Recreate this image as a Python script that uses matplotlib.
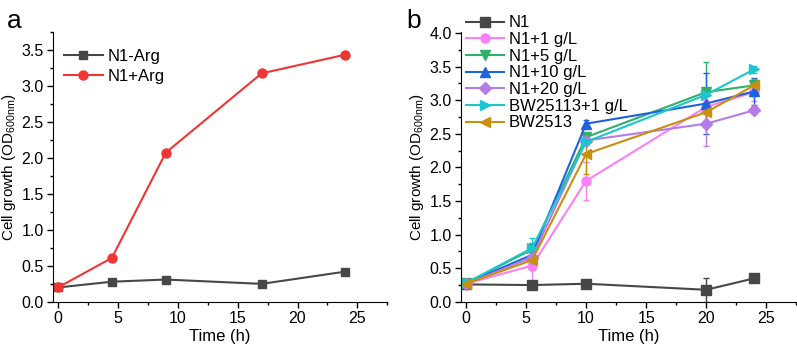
import matplotlib.pyplot as plt
from matplotlib.ticker import MultipleLocator, AutoMinorLocator

plt.rcParams['font.family'] = ['Liberation Sans', 'DejaVu Sans']
plt.rcParams['font.size'] = 11

# Panel a data
time_a = [0, 4.5, 9, 17, 24]
n1_minus_arg = [0.20, 0.28, 0.31, 0.25, 0.42]
n1_plus_arg = [0.20, 0.61, 2.07, 3.17, 3.43]

# Panel b data
time_b = [0, 5.5, 10, 20, 24]
labels_b = ["N1", "N1+1 g/L", "N1+5 g/L", "N1+10 g/L", "N1+20 g/L",
            "BW25113+1 g/L", "BW2513"]
means_b = [
    [0.26, 0.25, 0.27, 0.18, 0.35],
    [0.27, 0.54, 1.80, 2.90, 3.12],
    [0.28, 0.78, 2.45, 3.12, 3.22],
    [0.28, 0.70, 2.65, 2.95, 3.13],
    [0.27, 0.66, 2.40, 2.65, 2.85],
    [0.28, 0.80, 2.38, 3.08, 3.46],
    [0.27, 0.62, 2.20, 2.82, 3.22],
]
errs_b = [
    [0.03, 0.05, 0.02, 0.18, 0.05],
    [0.02, 0.28, 0.28, 0.10, 0.13],
    [0.02, 0.10, 0.05, 0.45, 0.08],
    [0.02, 0.10, 0.05, 0.45, 0.20],
    [0.02, 0.08, 0.05, 0.33, 0.05],
    [0.02, 0.15, 0.05, 0.10, 0.05],
    [0.02, 0.15, 0.30, 0.15, 0.10],
]
colors_b = ['#474747', '#fb7ff5', '#2fb06a', '#1f62e0', '#b67ce6', '#1cc6cc', '#c99010']
markers_b = ['s', 'o', 'v', '^', 'D', '>', '<']


def style_axes(ax, ymax, ystep):
    ax.spines['top'].set_visible(False)
    ax.spines['right'].set_visible(False)
    ax.set_xlim(-0.45, 27.5)
    ax.set_ylim(0, ymax)
    ax.xaxis.set_major_locator(MultipleLocator(5))
    ax.yaxis.set_major_locator(MultipleLocator(ystep))
    ax.xaxis.set_minor_locator(AutoMinorLocator(2))
    ax.yaxis.set_minor_locator(AutoMinorLocator(2))
    ax.tick_params(which='major', length=4, width=1, labelsize=11.5, pad=2.5)
    ax.tick_params(which='minor', length=2.5, width=1)
    ax.set_xlabel("Time (h)", fontsize=12, labelpad=2)
    ax.set_ylabel(r"Cell growth (OD$_{\mathregular{600nm}}$)", fontsize=11)
    ax.yaxis.set_label_coords(-0.102, 0.5)


fig = plt.figure(figsize=(7.97, 3.47), dpi=100)
ax1 = fig.add_axes([0.066, 0.130, 0.420, 0.779])
ax2 = fig.add_axes([0.578, 0.130, 0.421, 0.779])

# Panel a
ax1.plot(time_a, n1_minus_arg, color='#474747', marker='s', ms=6, lw=1.5, label="N1-Arg")
ax1.plot(time_a, n1_plus_arg, color='#f03535', marker='o', ms=6.5, lw=1.5, label="N1+Arg")
style_axes(ax1, 3.75, 0.5)
ax1.legend(loc='upper left', bbox_to_anchor=(0.035, 0.935), frameon=False,
           fontsize=12, handlelength=2.3, handletextpad=0.3, labelspacing=0.3,
           borderpad=0, borderaxespad=0)
fig.text(0.008, 0.975, "a", fontsize=19, va='top')

# Panel b
for y, e, c, m, lab in zip(means_b, errs_b, colors_b, markers_b, labels_b):
    ax2.errorbar(time_b, y, yerr=e, color=c, marker=m, ms=6.5, lw=1.5,
                 elinewidth=1, capsize=2.5, label=lab)
style_axes(ax2, 4.0, 0.5)
ax2.set_ylim(0, 4.02)
handles, labels = ax2.get_legend_handles_labels()
handles = [h[0] for h in handles]
ax2.legend(handles, labels, loc='upper left', bbox_to_anchor=(0.015, 1.06), frameon=False,
           fontsize=12, handlelength=2.3, handletextpad=0.3, labelspacing=0.1,
           borderpad=0, borderaxespad=0)
fig.text(0.51, 0.975, "b", fontsize=19, va='top')

fig.savefig("out.png", dpi=100)
